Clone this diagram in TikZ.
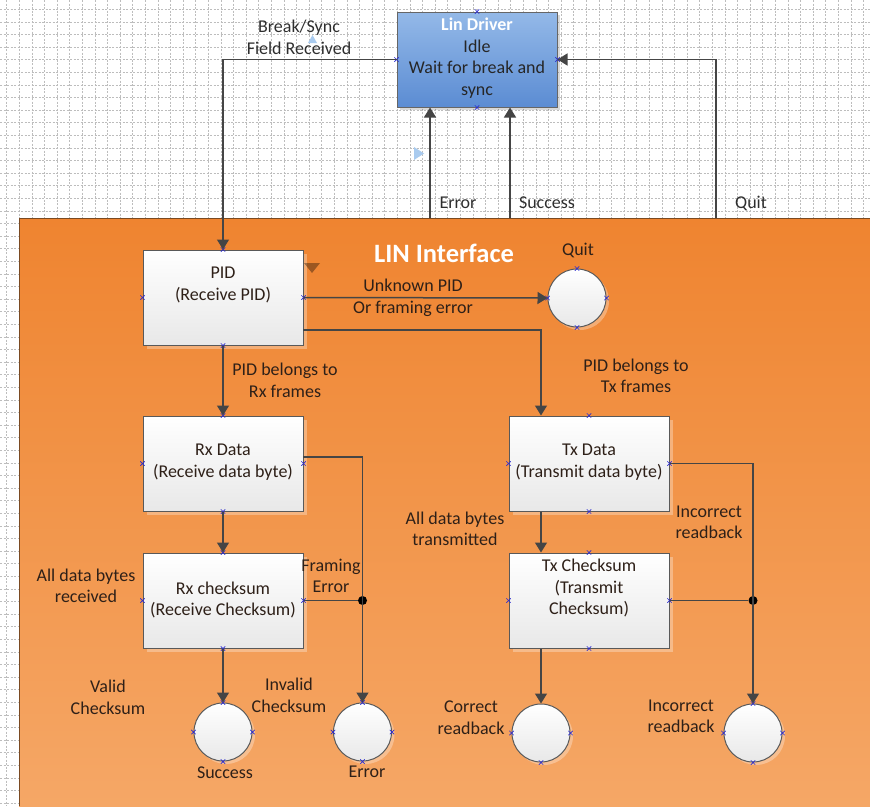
\documentclass[tikz,border=0pt]{standalone}
\usepackage{fontspec}
\setmainfont{Carlito}
\usetikzlibrary{arrows.meta,shadows}
\definecolor{orTop}{HTML}{EF8430}
\definecolor{orBot}{HTML}{F5A766}
\definecolor{lnC}{HTML}{454545}
\definecolor{txC}{HTML}{2E2018}
\definecolor{gtxC}{HTML}{2E2E2E}
\definecolor{blTop}{HTML}{94B9E8}
\definecolor{blBot}{HTML}{5B8CD3}
\definecolor{gridC}{HTML}{BDBDBD}
\definecolor{cxC}{HTML}{2B2BD0}
\definecolor{artBlue}{HTML}{A9CBEF}
\definecolor{edgeC}{HTML}{7A4A22}
\newcommand\cxmarks[2][north,south,east,west]{\foreach \a in {#1}{\draw[cx] (#2.\a) ++(-2.2,-2.2) -- ++(4.4,4.4) ++(-4.4,0) -- ++(4.4,-4.4);}}
\begin{document}
\begin{tikzpicture}[x=1pt,y=-1pt,
  every node/.style={font=\fontsize{18}{21.5}\selectfont, text=txC, align=center, inner sep=0pt},
  gridline/.style={draw=gridC, line width=0.5pt, dash pattern=on 2pt off 1.5pt},
  stbox/.style={draw=black!65, line width=1pt, minimum width=160pt, minimum height=95pt,
    top color=white, bottom color=black!9,
    drop shadow={shadow xshift=4pt, shadow yshift=-4pt, fill=white, opacity=0.3}},
  drvbox/.style={draw=black!60, line width=1pt, minimum width=160pt, minimum height=95pt,
    top color=blTop, bottom color=blBot,
    drop shadow={shadow xshift=3pt, shadow yshift=-3pt, fill=black, opacity=0.15}},
  endst/.style={circle, draw=black!65, line width=1pt, minimum size=58pt,
    top color=white, bottom color=black!9,
    drop shadow={shadow xshift=3pt, shadow yshift=-3pt, fill=white, opacity=0.3}},
  conn/.style={draw=lnC, line width=1.5pt, -{Triangle[length=10pt,width=12pt]}},
  segln/.style={draw=lnC, line width=1.5pt},
  lbl/.style={text=txC},
  glbl/.style={text=gtxC},
  cx/.style={draw=cxC, line width=0.7pt},
  jdot/.style={circle, fill=black, minimum size=9pt}
]
\useasboundingbox (0,0) rectangle (870,806);
\fill[white] (0,0) rectangle (870,806);
% grid
\foreach \i in {0,...,69} \draw[gridline] (6.7+\i*12.6,0) -- (6.7+\i*12.6,806);
\foreach \j in {0,...,63} \draw[gridline] (0,9.2+\j*12.6) -- (870,9.2+\j*12.6);
% LIN interface area
\shade[top color=orTop, bottom color=orBot] (19,218) rectangle (870,806);
\draw[edgeC, line width=1pt] (19,806) -- (19,218) -- (870,218);
\node[text=white, font=\fontsize{26.5}{30}\selectfont\bfseries] (title) at (444,253) {LIN Interface};

% artifacts
\fill[artBlue] (308,43) -- (317,43) -- (312.5,35) -- cycle;
\fill[artBlue] (414,147) -- (414,160) -- (424,153.5) -- cycle;

% driver box
\node[drvbox] (lin) at (477,59.5) {};
\node[text=black!85] (lint) at (477,58) {\textcolor{white}{\bfseries Lin Driver}\\Idle\\Wait for break and\\sync};

% state boxes
\node[stbox] (pid) at (223,297.5) {};
\node (pidt) at (223,285) {PID\\(Receive PID)};
\node[stbox] (rxd) at (223,463.5) {};
\node (rxdt) at (223,462) {Rx Data\\(Receive data byte)};
\node[stbox] (rxc) at (223,600.5) {};
\node (rxct) at (223,600) {Rx checksum\\(Receive Checksum)};
\node[stbox] (txd) at (589,463.5) {};
\node (txdt) at (589,462) {Tx Data\\(Transmit data byte)};
\node[stbox] (txc) at (589,600.5) {};
\node (txct) at (589,588) {Tx Checksum\\(Transmit\\Checksum)};

% end states
\node[endst] (quit) at (577,298) {};
\node[endst] (succ) at (223,732) {};
\node[endst] (err) at (362.5,732) {};
\node[endst] (cor) at (541,733) {};
\node[endst] (inc) at (753,733) {};

\fill[black, opacity=0.35] (304,263) -- (320,263) -- (312,273) -- cycle;

% connection point marks
\cxmarks{lin}\cxmarks{pid}\cxmarks{rxd}\cxmarks{rxc}\cxmarks{txd}\cxmarks{txc}
\cxmarks{quit}\cxmarks{succ}\cxmarks{err}\cxmarks{inc}\cxmarks[south,east,west]{cor}

% junctions
\node[jdot] (j1) at (err.north |- rxc.east) {};
\node[jdot] (j2) at (inc.north |- txc.east) {};

% coordinates
\coordinate (eb) at (430,218);
\coordinate (sb) at (510,218);
\coordinate (qb) at (716,218);
\coordinate (pidtx) at (303,330);
\coordinate (tcx) at (541,0);
\coordinate (rxr) at (303,457);

% connectors
\draw[conn] (lin.west) -| (pid.north);
\draw[conn] (qb) |- (lin.east);
\draw[conn] (eb) -- (eb |- lin.south);
\draw[conn] (sb) -- (sb |- lin.south);
\draw[conn] (pid.east) -- (quit.west);
\draw[conn] (pidtx) -| (txd.north -| tcx);
\draw[conn] (pid.south) -- (rxd.north);
\draw[conn] (rxd.south) -- (rxc.north);
\draw[conn] (rxc.south) -- (succ.north);
\draw[conn] (rxr) -| (err.north);
\draw[segln] (rxc.east) -- (j1);
\draw[conn] (txd.east) -| (inc.north);
\draw[segln] (txc.east) -- (j2);
\draw[conn] (txd.south -| tcx) -- (txc.north -| tcx);
\draw[conn] (txc.south -| cor.north) -- (cor.north);

% labels
\node[glbl] (lbrk) at (299,37.5) {Break/Sync\\Field Received};
\node[glbl] (lerr) at (458,203) {Error};
\node[glbl] (lsuc) at (547,203) {Success};
\node[glbl] (lqt) at (751,203) {Quit};
\node[lbl] (lquit) at (578,250) {Quit};
\node[lbl] (lunk) at (413,298) {Unknown PID\\Or framing error};
\node[lbl] (lrxf) at (285,380.5) {PID belongs to\\Rx frames};
\node[lbl] (ltxf) at (636,376) {PID belongs to\\Tx frames};
\node[lbl] (lall) at (86,586) {All data bytes\\received};
\node[lbl] (lfr) at (331,576) {Framing\\Error};
\node[lbl] (lval) at (108,697.5) {Valid\\Checksum};
\node[lbl] (linv) at (289,695.5) {Invalid\\Checksum};
\node[lbl] (lsucc) at (225,773) {Success};
\node[lbl] (lerr2) at (367,772) {Error};
\node[lbl] (ltx) at (455,529) {All data bytes\\transmitted};
\node[lbl] (linc1) at (709,522.5) {Incorrect\\readback};
\node[lbl] (lcor) at (471,717.5) {Correct\\readback};
\node[lbl] (linc2) at (681,716.5) {Incorrect\\readback};
\end{tikzpicture}
\end{document}
